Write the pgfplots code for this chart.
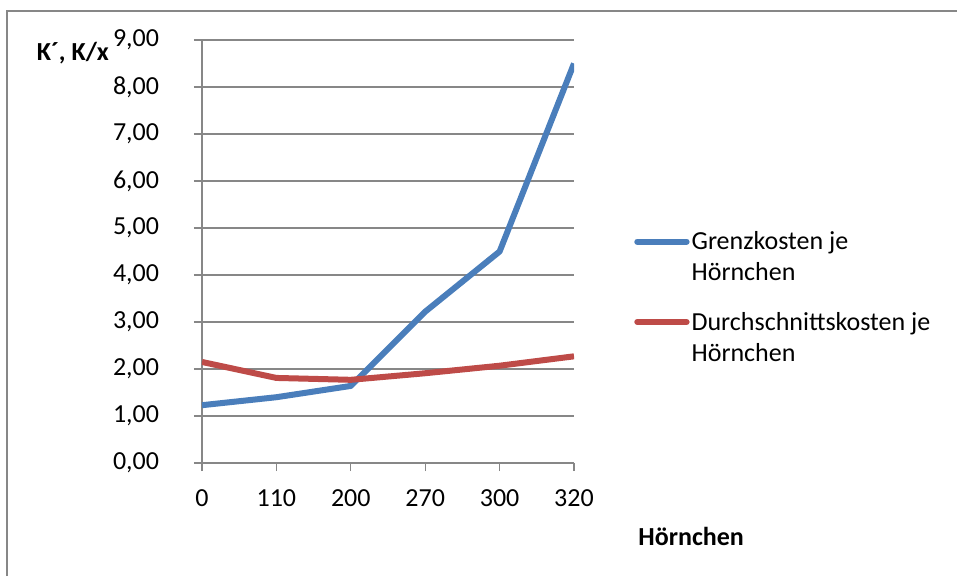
\documentclass[border=0pt]{standalone}
\usepackage{fontspec}
\setmainfont{Carlito}
\usepackage{pgfplots}
\pgfplotsset{compat=1.18}
\definecolor{bl}{HTML}{4A7EBB}
\definecolor{rd}{HTML}{BE4B48}
\definecolor{gr}{HTML}{878787}
\begin{document}
\fontsize{19.5}{23.25}\selectfont
\begin{tikzpicture}
\path[use as bounding box] (0,0) rectangle (717.75pt,-432pt);
\draw[gr, line width=1.5pt] (5.25pt,-432pt) -- (5.25pt,-7.9pt) -- (717.75pt,-7.9pt);
\begin{axis}[
  at={(151.5pt,-347.25pt)}, anchor=south west,
  scale only axis, width=279pt, height=317.25pt,
  xmin=0, xmax=5, ymin=0, ymax=9,
  axis lines=left, axis line style={-, gr, line width=1pt},
  xtick={0,1,2,3,4,5}, xticklabels={0,110,200,270,300,320},
  ytick={0,1,2,3,4,5,6,7,8,9},
  ymajorgrids, grid style={gr, line width=1pt},
  tick style={gr, line width=1pt}, tick align=outside, major tick length=6pt,
  /pgf/number format/fixed, /pgf/number format/fixed zerofill,
  /pgf/number format/precision=2, /pgf/number format/use comma,
  /pgf/number format/assume math mode=true,
  tick label style={font=\fontsize{19.5}{23.25}\selectfont, inner sep=0pt},
  yticklabel style={anchor=east, xshift=-26pt},
  xticklabel style={anchor=north, yshift=-14pt},
  xlabel={\textbf{Hörnchen}},
  xlabel style={at={(axis description cs:1.315,-0.1726)}, anchor=center},
  ylabel={\textbf{K´, K/x}},
  ylabel style={at={(axis description cs:-0.347,0.969)}, anchor=center, rotate=-90},
  legend image code/.code={\draw[#1, line cap=round] (2pt,0.32em) -- (39pt,0.32em);},
  legend style={draw=none, fill=none, inner sep=0pt,
    at={(axis description cs:1.1613,0.5556)}, anchor=north west,
    cells={anchor=base west}, row sep=41pt,
    nodes={inner xsep=1.5pt, inner ysep=0pt},
    font=\fontsize{19.5}{23.25}\selectfont},
]
\addplot[bl, line width=4.5pt, line join=round] coordinates {(0,1.23)(1,1.40)(2,1.64)(3,3.22)(4,4.50)(5,8.50)};
\addlegendentry{\begin{tabular}[t]{@{}l@{}}Grenzkosten je\\Hörnchen\end{tabular}}
\addplot[rd, line width=4.5pt, line join=round] coordinates {(0,2.15)(1,1.81)(2,1.77)(3,1.91)(4,2.07)(5,2.27)};
\addlegendentry{\begin{tabular}[t]{@{}l@{}}Durchschnittskosten je\\Hörnchen\end{tabular}}
\end{axis}
\end{tikzpicture}
\end{document}
